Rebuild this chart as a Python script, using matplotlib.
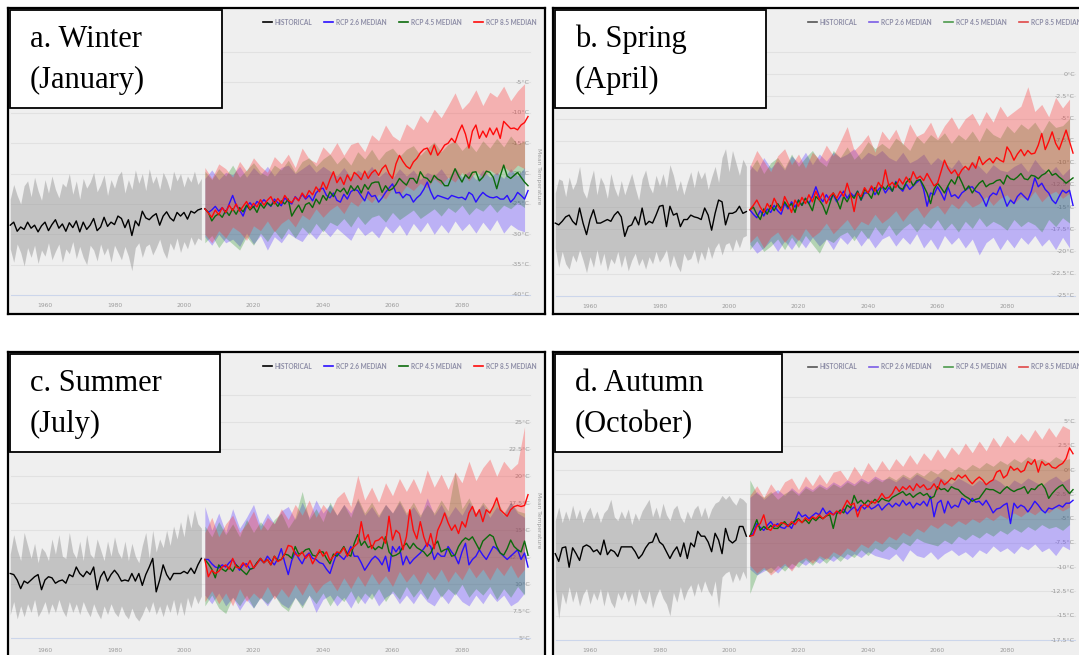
import numpy as np
import matplotlib.pyplot as plt
from matplotlib.patches import Rectangle

W, H = 1079, 655          # output size in pixels
PW, PH = 537, 306         # one panel (screenshot) in pixels
PPY = 3.475               # pixels per year on the x axis
X0 = 1960 - 37 / PPY      # year at the left edge of a panel
X1 = X0 + PW / PPY

hist_years = np.arange(1950, 2006)
rcp_years = np.arange(2006, 2100)
band_years = np.arange(2006, 2100, 2)

# ---------------- a. Winter (January) ----------------
jan_hist = [-28.5, -28.0, -29.5, -28.8, -29.2, -28.0, -29.0, -28.5, -29.6, -28.6,
            -28.0, -29.4, -28.4, -27.6, -29.0, -28.3, -29.5, -28.1, -28.9, -27.8,
            -29.6, -28.0, -29.2, -28.5, -27.4, -29.4, -28.8, -27.2, -28.7, -28.0,
            -28.4, -27.0, -27.4, -28.9, -27.6, -30.2, -27.8, -28.6, -26.2, -27.3,
            -27.6, -27.0, -26.6, -28.5, -27.0, -26.3, -27.3, -27.8, -26.4, -27.0,
            -26.4, -27.5, -26.2, -26.5, -26.0, -25.8]
jan_hist_hi = [-24.2, -21.8, -23.6, -25.0, -22.0, -21.2, -23.8, -20.6, -22.8, -24.4,
               -21.0, -23.2, -20.4, -22.6, -24.0, -21.6, -22.2, -20.0, -23.4, -21.2,
               -24.2, -20.8, -22.4, -21.4, -19.8, -23.0, -21.8, -20.2, -23.6, -21.0,
               -22.4, -20.4, -19.6, -23.2, -21.0, -22.6, -19.4, -21.6, -20.0, -22.8,
               -19.2, -21.6, -20.4, -22.6, -19.8, -21.0, -22.8, -19.6, -21.2, -20.0,
               -22.2, -20.4, -21.4, -19.6, -21.8, -20.8]
jan_hist_lo = [-32.4, -34.6, -31.6, -33.0, -35.2, -32.2, -33.8, -31.8, -34.8, -32.6,
               -33.6, -31.4, -34.2, -32.8, -31.6, -34.6, -32.4, -33.2, -31.2, -34.0,
               -32.0, -33.8, -35.0, -31.8, -32.6, -34.4, -31.6, -33.4, -32.2, -34.6,
               -31.8, -33.0, -34.2, -32.0, -33.6, -36.0, -32.2, -31.4, -33.8, -32.0,
               -31.6, -33.4, -32.2, -30.8, -32.8, -34.0, -31.4, -32.6, -30.6, -33.0,
               -31.2, -32.4, -30.4, -31.8, -30.6, -31.0]
jan_rcp85 = [-25.8, -26.5, -27.2, -26.0, -26.8, -25.6, -26.4, -25.2, -26.1, -25.0,
             -26.2, -25.4, -24.6, -25.8, -24.9, -25.5, -24.3, -25.2, -24.4, -23.8,
             -25.0, -24.1, -24.9, -23.6, -24.4, -24.8, -23.9, -24.5, -23.2, -24.0,
             -22.8, -23.5, -22.2, -23.0, -21.4, -22.6, -21.0, -19.7, -21.5, -20.6,
             -21.8, -20.2, -21.2, -19.8, -20.3, -21.0, -19.6, -20.8, -19.9, -19.4,
             -20.3, -19.2, -18.6, -20.0, -20.8, -18.4, -17.0, -18.0, -18.8, -19.2,
             -18.1, -17.5, -16.6, -16.0, -15.8, -16.9, -15.3, -17.0, -16.2, -15.3,
             -15.0, -14.2, -14.9, -13.2, -12.0, -13.5, -15.8, -13.0, -12.0, -14.2,
             -13.0, -14.0, -12.5, -13.6, -12.5, -14.2, -11.4, -12.0, -12.6, -12.5,
             -12.8, -12.0, -11.6, -10.6]
jan_rcp45 = [-25.8, -26.4, -27.8, -27.0, -26.6, -27.2, -26.1, -26.9, -25.8, -26.7,
             -25.6, -26.3, -25.2, -26.0, -25.4, -26.4, -25.0, -25.7, -24.8, -25.3,
             -24.6, -25.4, -24.5, -25.0, -24.2, -27.0, -26.0, -25.2, -26.4, -25.1,
             -24.8, -25.6, -24.2, -25.0, -23.6, -24.4, -23.0, -23.8, -22.6, -23.0,
             -22.4, -23.4, -22.0, -22.8, -22.0, -23.2, -21.8, -22.6, -21.6, -21.4,
             -21.4, -23.1, -22.0, -22.8, -22.5, -21.8, -20.8, -21.4, -21.9, -20.8,
             -20.8, -21.6, -19.7, -20.6, -20.8, -21.5, -20.3, -20.9, -21.2, -22.0,
             -22.0, -20.6, -19.2, -20.4, -21.4, -20.2, -20.8, -19.8, -19.7, -21.2,
             -20.6, -19.6, -19.8, -20.6, -22.5, -20.4, -18.6, -20.4, -20.8, -20.3,
             -19.8, -20.6, -21.4, -22.0]
jan_rcp26 = [-25.8, -26.4, -26.0, -25.4, -26.2, -25.6, -26.5, -25.0, -23.6, -25.2,
             -26.0, -27.0, -25.4, -24.8, -25.6, -24.6, -25.0, -24.3, -24.9, -25.4,
             -24.2, -24.8, -25.3, -24.0, -24.6, -25.0, -23.8, -24.4, -23.4, -24.2,
             -23.6, -24.5, -23.2, -22.6, -22.4, -23.6, -24.0, -23.2, -24.4, -24.7,
             -23.4, -24.2, -23.0, -22.6, -22.8, -23.7, -24.5, -23.0, -23.8, -23.6,
             -24.7, -24.0, -23.1, -22.4, -21.7, -23.2, -23.1, -24.0, -23.4, -23.6,
             -24.7, -24.0, -23.5, -22.6, -21.4, -23.0, -24.2, -23.6, -23.8, -24.0,
             -24.2, -23.6, -23.8, -24.0, -23.9, -24.3, -23.1, -23.5, -24.7, -23.8,
             -23.1, -23.6, -23.9, -24.0, -23.8, -24.2, -24.2, -23.6, -24.7, -24.1,
             -23.1, -23.6, -24.2, -22.8]
jan_rcp85_hi = [-19.0, -20.8, -18.4, -19.2, -20.6, -18.0, -19.6, -17.4, -18.8, -19.8,
                -17.2, -18.4, -16.8, -19.0, -15.8, -17.6, -18.2, -15.6, -16.8, -14.9,
                -17.0, -15.2, -14.8, -16.4, -13.6, -14.6, -12.0, -13.8, -14.6, -11.8,
                -12.8, -10.4, -11.6, -9.4, -10.8, -8.8, -6.7, -9.4, -8.2, -6.2,
                -8.8, -6.6, -7.4, -5.6, -8.0, -6.4, -5.2]
jan_rcp85_lo = [-30.0, -31.4, -29.4, -30.6, -28.8, -29.6, -31.0, -28.6, -29.4, -27.8,
                -29.6, -28.2, -27.4, -28.8, -26.8, -27.6, -25.8, -27.2, -26.0, -25.2,
                -26.6, -24.6, -25.4, -23.8, -24.8, -23.4, -24.2, -22.4, -23.6, -22.0,
                -22.8, -21.6, -22.4, -20.8, -21.8, -20.6, -21.4, -19.8, -21.2, -19.6,
                -20.6, -19.4, -20.2, -18.8, -19.8, -18.6, -19.2]
jan_rcp45_hi = [-19.6, -21.0, -19.2, -20.4, -18.6, -20.6, -19.4, -18.2, -19.8, -20.4,
                -18.6, -19.4, -17.8, -19.8, -18.0, -17.4, -18.8, -17.6, -16.8, -18.4,
                -17.2, -18.6, -16.4, -17.6, -16.0, -17.8, -16.4, -15.8, -17.2, -16.0,
                -15.4, -17.0, -15.8, -14.8, -16.4, -15.2, -14.6, -16.2, -15.0, -16.4,
                -14.6, -15.8, -14.2, -15.6, -13.8, -15.2, -14.6]
jan_rcp45_lo = [-31.4, -30.2, -32.2, -30.6, -31.6, -32.6, -30.4, -31.8, -29.8, -31.2,
                -29.4, -30.8, -29.0, -30.6, -28.8, -30.0, -28.2, -29.6, -28.0, -28.6,
                -27.4, -28.8, -27.0, -28.4, -27.2, -26.8, -28.0, -26.4, -27.6, -26.8,
                -26.0, -27.4, -26.6, -25.8, -27.0, -25.6, -26.4, -25.2, -26.8, -25.6,
                -26.2, -25.0, -26.4, -25.2, -25.8, -24.8, -25.6]
jan_rcp26_hi = [-20.8, -19.4, -21.0, -19.8, -20.2, -18.8, -20.6, -19.0, -20.2, -18.8,
                -20.4, -19.0, -18.6, -20.0, -19.2, -18.4, -19.8, -18.8, -19.6, -20.4,
                -19.0, -20.6, -19.4, -20.2, -18.8, -20.6, -19.6, -20.8, -19.2, -20.4,
                -19.4, -21.0, -19.8, -20.4, -19.2, -20.8, -19.0, -20.6, -19.6, -21.0,
                -19.4, -20.6, -19.8, -20.8, -19.2, -20.4, -19.0]
jan_rcp26_lo = [-30.4, -31.8, -30.0, -31.4, -30.8, -32.0, -29.8, -31.6, -30.2, -32.6,
                -30.4, -31.4, -29.8, -30.6, -31.2, -29.6, -30.8, -29.2, -30.4, -29.0,
                -30.0, -31.0, -28.8, -30.2, -29.4, -30.6, -28.6, -29.8, -28.4, -30.2,
                -28.2, -29.6, -28.0, -30.0, -28.4, -29.8, -27.8, -29.4, -28.2, -29.8,
                -28.0, -29.4, -27.6, -29.8, -28.4, -29.2, -29.6]

# ---------------- b. Spring (April) ----------------
apr_hist = [-16.8, -17.0, -16.6, -16.1, -15.9, -16.6, -17.0, -15.1, -16.8, -18.1,
            -16.4, -15.3, -16.8, -16.8, -16.6, -16.4, -16.6, -15.9, -15.5, -16.1,
            -18.3, -17.2, -17.0, -16.1, -17.0, -15.1, -17.0, -16.6, -16.8, -15.9,
            -14.9, -14.8, -17.2, -14.9, -15.9, -15.7, -17.2, -16.4, -16.4, -15.9,
            -16.1, -16.2, -16.4, -15.1, -15.9, -17.6, -15.7, -14.2, -14.4, -17.0,
            -15.7, -15.7, -15.5, -14.9, -15.7, -15.5]
apr_hist_hi = [-13.4, -11.8, -12.0, -13.8, -11.6, -13.0, -12.2, -10.4, -13.2, -14.0,
               -12.2, -10.8, -13.6, -11.6, -12.4, -14.0, -11.2, -12.8, -13.8, -12.0,
               -13.6, -12.4, -11.2, -12.8, -14.2, -11.8, -10.8, -12.6, -13.4, -11.4,
               -12.6, -11.2, -12.8, -10.2, -11.4, -13.2, -12.0, -13.6, -12.2, -11.0,
               -12.8, -10.8, -11.8, -11.0, -13.0, -11.6, -10.4, -12.2, -9.4, -8.4,
               -11.0, -8.6, -10.0, -11.4, -9.6, -10.4]
apr_hist_lo = [-19.6, -21.8, -20.0, -21.4, -22.0, -20.4, -21.2, -19.8, -21.0, -22.4,
               -20.6, -21.8, -19.8, -21.6, -20.2, -22.2, -20.8, -21.4, -20.0, -21.8,
               -20.4, -22.2, -21.0, -20.2, -21.6, -20.8, -22.0, -20.6, -21.4, -20.0,
               -21.2, -20.6, -19.8, -21.8, -20.4, -21.6, -22.3, -20.2, -21.0, -20.8,
               -19.8, -21.4, -20.0, -21.0, -19.4, -20.8, -19.6, -19.0, -20.4, -19.2,
               -19.0, -20.0, -18.6, -19.6, -18.4, -18.2]
apr_rcp85 = [-15.3, -14.8, -14.2, -15.0, -15.6, -14.6, -15.2, -14.0, -14.8, -15.4,
             -13.8, -14.6, -15.6, -14.2, -14.9, -13.9, -14.6, -13.6, -14.4, -13.2,
             -14.2, -13.4, -14.6, -13.8, -13.4, -14.0, -13.2, -13.8, -12.3, -13.6,
             -15.5, -13.4, -13.8, -12.8, -13.4, -12.6, -13.2, -12.2, -12.8, -10.8,
             -12.6, -12.2, -12.8, -11.8, -12.4, -11.6, -12.2, -11.0, -11.8, -11.5,
             -12.0, -11.2, -11.9, -12.6, -12.3, -11.0, -9.7, -10.6, -11.2, -10.8,
             -11.5, -10.8, -10.4, -10.8, -10.0, -10.6, -9.3, -10.2, -9.8, -9.5,
             -10.0, -9.4, -9.7, -9.9, -8.2, -8.8, -9.7, -9.0, -8.5, -9.2,
             -8.6, -9.0, -8.9, -8.0, -6.7, -8.5, -7.6, -6.5, -7.8, -8.5,
             -7.4, -6.3, -7.6, -8.9]
apr_rcp45 = [-15.3, -15.0, -15.8, -16.4, -15.2, -15.8, -14.8, -15.4, -14.6, -15.2,
             -14.4, -15.0, -14.6, -15.6, -14.2, -14.8, -14.0, -14.6, -15.4, -13.8,
             -14.2, -14.8, -15.8, -14.6, -13.4, -14.2, -15.2, -13.8, -14.4, -13.6,
             -14.0, -13.2, -14.2, -13.0, -13.4, -14.0, -12.8, -13.6, -12.6, -13.0,
             -12.4, -13.2, -12.2, -12.8, -13.0, -12.2, -11.8, -12.6, -12.0, -11.9,
             -12.6, -13.4, -14.6, -13.0, -12.3, -12.8, -13.4, -12.6, -11.9, -12.4,
             -11.4, -12.2, -13.1, -12.6, -13.4, -12.8, -12.3, -12.0, -12.7, -12.4,
             -12.3, -12.0, -11.9, -12.4, -11.4, -11.8, -11.9, -11.6, -11.2, -11.8,
             -11.9, -11.4, -11.5, -11.8, -11.4, -11.2, -10.8, -11.4, -11.2, -11.6,
             -11.9, -12.3, -12.0, -11.7]
apr_rcp26 = [-15.3, -15.8, -16.2, -15.4, -16.0, -15.2, -15.6, -14.8, -15.4, -15.8,
             -14.6, -15.2, -14.4, -15.0, -14.2, -14.8, -14.0, -14.6, -13.8, -12.7,
             -13.8, -14.4, -13.6, -14.2, -13.6, -14.4, -13.8, -13.2, -14.0, -13.4,
             -13.8, -13.2, -14.2, -13.4, -13.4, -12.8, -13.6, -13.0, -12.6, -13.4,
             -12.8, -13.2, -12.1, -12.8, -13.2, -12.4, -13.0, -12.6, -12.2, -11.9,
             -13.0, -14.9, -13.4, -13.6, -12.7, -13.4, -14.2, -12.7, -13.8, -13.6,
             -14.0, -13.4, -13.1, -12.8, -12.7, -13.2, -13.4, -14.0, -14.9, -13.8,
             -13.4, -13.6, -12.7, -13.8, -14.9, -14.2, -14.6, -13.8, -13.4, -13.8,
             -14.2, -13.2, -11.7, -12.7, -12.3, -13.0, -13.4, -14.2, -14.6, -13.8,
             -13.1, -13.4, -13.1, -14.8]
apr_rcp85_hi = [-10.4, -8.6, -9.8, -11.0, -9.2, -8.4, -10.2, -9.0, -10.6, -8.8,
                -9.6, -8.0, -9.2, -7.6, -5.9, -8.6, -7.8, -6.8, -8.8, -6.4,
                -7.4, -6.2, -8.0, -5.6, -7.0, -6.6, -5.4, -7.2, -5.8, -4.8,
                -6.2, -5.0, -4.4, -5.8, -4.2, -5.4, -3.6, -4.8, -4.2, -3.6,
                -1.4, -4.2, -3.4, -4.8, -2.6, -3.8, -2.8]
apr_rcp85_lo = [-19.0, -18.2, -19.6, -18.4, -17.8, -19.0, -18.0, -18.8, -17.4, -18.4,
                -17.8, -16.8, -18.0, -17.2, -16.4, -17.6, -16.6, -17.0, -15.8, -16.8,
                -16.2, -15.4, -16.6, -15.6, -15.0, -16.2, -15.2, -14.8, -15.8, -14.6,
                -15.2, -14.2, -15.0, -14.6, -13.8, -14.8, -14.0, -13.6, -14.6, -13.8,
                -14.2, -13.2, -14.4, -13.6, -13.2, -14.0, -13.4]
apr_rcp45_hi = [-10.8, -9.6, -11.2, -10.0, -9.4, -10.6, -9.0, -10.4, -9.4, -8.6,
                -9.8, -10.4, -8.6, -9.4, -8.2, -9.6, -8.8, -7.6, -8.4, -7.8,
                -8.4, -7.2, -7.8, -8.6, -7.0, -7.8, -6.8, -7.4, -6.6, -7.8,
                -6.8, -7.4, -6.4, -7.6, -6.0, -6.8, -7.2, -5.8, -6.6, -5.6,
                -6.2, -5.4, -6.6, -5.2, -6.0, -5.8, -5.0]
apr_rcp45_lo = [-19.8, -18.8, -20.0, -19.4, -18.6, -19.8, -18.4, -19.6, -18.2, -19.2,
                -20.2, -18.6, -19.0, -18.2, -17.8, -18.8, -17.6, -18.6, -17.2, -18.2,
                -17.0, -18.2, -17.4, -16.8, -17.8, -16.8, -17.4, -16.4, -17.6, -16.8,
                -17.8, -16.6, -17.4, -16.2, -17.2, -16.6, -17.0, -17.6, -16.4, -17.2,
                -16.6, -17.0, -17.8, -16.4, -17.2, -16.2, -16.8]
apr_rcp26_hi = [-10.2, -11.0, -9.4, -10.6, -9.8, -10.8, -9.2, -10.0, -8.8, -10.2,
                -9.0, -9.8, -8.8, -9.4, -9.0, -8.4, -9.6, -8.8, -9.2, -8.6,
                -9.4, -9.8, -8.8, -10.0, -9.6, -9.0, -10.2, -9.4, -10.0, -10.6,
                -9.6, -10.8, -9.8, -10.4, -11.2, -10.2, -10.8, -11.0, -10.4, -10.0,
                -11.0, -9.6, -10.6, -11.2, -10.4, -11.4, -10.6]
apr_rcp26_lo = [-19.2, -20.2, -19.6, -18.8, -20.0, -18.8, -19.8, -18.6, -19.6, -18.4,
                -19.4, -18.6, -19.8, -18.4, -19.2, -18.2, -19.4, -18.4, -19.6, -18.6,
                -18.2, -19.4, -18.4, -19.2, -18.0, -19.6, -18.6, -19.8, -18.2, -19.2,
                -18.4, -19.6, -18.6, -20.4, -19.0, -18.4, -19.8, -18.6, -19.6, -18.4,
                -19.2, -18.2, -19.4, -18.6, -19.8, -18.4, -19.6]

# ---------------- c. Summer (July) ----------------
jul_hist = [11.0, 10.9, 10.4, 9.6, 10.3, 10.1, 10.4, 10.7, 10.9, 9.5,
            10.4, 10.7, 10.6, 10.1, 10.3, 10.4, 10.1, 10.9, 10.7, 11.6,
            11.0, 10.7, 11.2, 10.9, 11.6, 9.5, 10.7, 11.2, 10.3, 10.9,
            11.3, 10.9, 10.3, 10.4, 10.3, 11.0, 10.3, 11.0, 9.9, 10.9,
            11.6, 12.4, 9.3, 10.4, 11.8, 10.9, 10.4, 11.0, 11.0, 11.0,
            11.2, 11.0, 11.5, 11.0, 11.8, 12.4]
jul_hist_hi = [12.8, 14.6, 13.2, 12.2, 14.8, 13.6, 12.4, 13.8, 12.0, 13.4,
               13.0, 12.2, 14.2, 12.8, 14.6, 12.6, 12.4, 14.8, 13.0, 12.4,
               14.0, 12.2, 14.6, 12.8, 12.4, 14.2, 13.2, 12.2, 14.0, 12.6,
               14.4, 13.0, 12.4, 14.0, 12.2, 13.8, 12.6, 12.0, 13.6, 14.8,
               12.4, 15.0, 13.0, 14.2, 13.4, 15.0, 13.6, 15.4, 14.2, 15.8,
               14.4, 16.6, 15.2, 16.9, 15.6, 15.2]
jul_hist_lo = [7.2, 8.4, 6.8, 8.0, 7.0, 8.2, 7.4, 8.6, 7.0, 7.6,
               8.4, 7.2, 8.2, 7.4, 8.6, 7.6, 7.0, 8.4, 7.4, 8.2,
               7.2, 8.4, 7.6, 7.0, 8.2, 7.4, 6.8, 8.0, 7.2, 8.2,
               7.4, 7.0, 8.0, 7.2, 6.8, 7.8, 7.0, 6.6, 7.2, 8.0,
               7.4, 8.4, 7.2, 8.0, 7.0, 8.2, 7.4, 8.6, 7.1, 8.4,
               7.1, 8.8, 7.8, 9.0, 8.2, 8.9]
jul_rcp85 = [12.3, 10.7, 11.3, 11.0, 11.2, 11.6, 11.8, 11.4, 12.4, 11.6,
             11.5, 12.0, 11.6, 12.2, 11.5, 11.9, 12.4, 12.0, 12.3, 11.8,
             12.6, 12.1, 12.3, 12.8, 13.6, 13.5, 12.8, 12.6, 13.0, 12.4,
             12.8, 11.9, 12.5, 13.2, 12.6, 13.0, 12.2, 12.6, 13.0, 12.9,
             13.4, 12.6, 13.2, 13.5, 13.8, 15.8, 14.1, 14.6, 13.3, 14.0,
             14.1, 14.4, 13.8, 16.3, 14.1, 15.0, 14.7, 13.2, 14.4, 16.9,
             15.0, 14.2, 15.8, 14.4, 13.5, 14.7, 13.3, 15.0, 15.7, 16.6,
             15.7, 15.0, 15.5, 14.7, 15.8, 15.3, 16.6, 17.2, 16.3, 16.9,
             15.8, 16.9, 16.6, 17.2, 18.0, 16.9, 16.6, 16.3, 16.9, 17.2,
             17.3, 17.2, 17.3, 18.3]
jul_rcp45 = [12.3, 11.9, 11.4, 10.6, 11.8, 11.4, 11.2, 11.6, 11.2, 11.8,
             11.5, 11.2, 10.9, 11.4, 11.5, 12.0, 12.4, 12.0, 12.3, 11.8,
             12.6, 12.2, 12.3, 12.8, 12.7, 12.4, 13.5, 12.8, 12.9, 13.2,
             13.3, 12.7, 12.6, 13.0, 13.0, 12.4, 11.9, 12.8, 12.6, 13.0,
             13.5, 12.8, 12.6, 13.8, 14.6, 13.6, 14.0, 13.4, 13.6, 13.2,
             13.5, 13.3, 14.4, 13.0, 12.6, 12.7, 12.9, 13.5, 13.8, 13.3,
             13.8, 13.4, 13.2, 13.0, 12.6, 12.9, 13.6, 14.0, 13.0, 13.2,
             13.3, 12.6, 12.7, 13.5, 14.0, 14.3, 14.1, 14.4, 13.8, 13.2,
             14.0, 14.3, 14.6, 14.4, 13.5, 12.9, 12.7, 13.3, 14.1, 13.5,
             13.2, 13.0, 14.0, 12.7]
jul_rcp26 = [12.3, 12.3, 11.9, 11.6, 11.5, 11.8, 11.6, 12.0, 12.3, 11.8,
             11.3, 11.8, 11.9, 11.4, 11.5, 12.0, 12.3, 12.0, 12.6, 12.2,
             11.8, 12.4, 13.3, 12.0, 10.9, 12.2, 13.0, 12.4, 11.9, 12.6,
             12.9, 12.4, 12.3, 12.0, 11.9, 11.4, 11.0, 12.0, 12.9, 12.6,
             12.3, 12.8, 13.5, 12.6, 12.6, 12.0, 11.3, 11.8, 12.3, 12.6,
             12.3, 11.8, 12.6, 11.2, 13.5, 13.0, 13.5, 11.8, 12.6, 11.9,
             12.3, 12.6, 12.9, 13.3, 13.8, 13.5, 12.3, 12.9, 12.6, 12.6,
             13.5, 13.0, 12.6, 11.9, 13.0, 13.8, 11.8, 12.3, 12.6, 13.2,
             12.7, 12.3, 12.9, 13.5, 13.3, 12.9, 12.6, 12.3, 12.6, 12.9,
             13.2, 12.3, 12.9, 11.6]
jul_rcp85_hi = [14.8, 16.2, 14.4, 15.6, 16.4, 14.8, 15.6, 16.8, 15.0, 16.2,
                15.6, 17.0, 16.0, 17.4, 16.4, 17.8, 16.2, 17.4, 16.6, 18.0,
                18.6, 17.2, 20.1, 17.8, 19.0, 17.6, 19.4, 18.2, 19.8, 18.6,
                19.8, 18.4, 20.6, 19.0, 20.2, 18.8, 20.4, 19.4, 21.4, 19.6,
                20.8, 21.6, 20.0, 21.4, 20.6, 21.2, 24.6]
jul_rcp85_lo = [8.4, 9.4, 8.2, 9.2, 8.0, 9.6, 8.4, 9.2, 8.6, 9.8,
                8.6, 9.6, 8.8, 10.0, 9.0, 10.2, 9.2, 10.0, 10.4, 9.4,
                10.6, 9.6, 10.8, 9.8, 11.0, 10.0, 10.8, 9.8, 11.2, 10.2,
                11.0, 10.0, 11.2, 10.4, 11.4, 10.2, 11.2, 10.4, 11.6, 10.6,
                11.4, 10.4, 11.6, 10.8, 11.8, 10.6, 11.4]
jul_rcp45_hi = [15.4, 14.4, 15.8, 14.6, 15.6, 14.4, 16.0, 14.8, 15.8, 15.0,
                16.0, 16.6, 15.2, 16.2, 18.6, 16.0, 17.0, 15.8, 17.6, 16.4,
                17.4, 16.2, 18.0, 16.6, 17.6, 16.4, 17.4, 16.6, 17.8, 16.6,
                17.6, 16.4, 17.4, 16.6, 17.8, 16.8, 20.4, 17.0, 18.0, 16.6,
                17.6, 16.8, 17.8, 16.6, 17.6, 16.8, 16.6]
jul_rcp45_lo = [8.0, 9.0, 7.8, 7.3, 8.8, 8.0, 9.0, 7.8, 8.8, 8.2,
                9.0, 8.0, 7.5, 8.8, 7.8, 9.0, 8.2, 9.2, 8.0, 9.0,
                8.4, 9.4, 8.2, 9.2, 8.6, 9.6, 8.4, 9.4, 8.6, 9.8,
                8.8, 9.6, 8.6, 9.8, 8.8, 9.6, 9.0, 10.0, 8.8, 9.6,
                9.0, 9.8, 8.6, 9.6, 8.8, 9.8, 9.0]
jul_rcp26_hi = [17.2, 15.0, 16.6, 14.8, 17.0, 15.2, 16.2, 17.4, 15.4, 16.6,
                15.6, 16.8, 17.2, 16.0, 17.6, 16.2, 17.8, 16.6, 17.4, 16.4,
                17.4, 16.6, 17.8, 16.4, 17.2, 16.2, 17.4, 16.6, 17.6, 16.4,
                17.2, 16.2, 18.0, 16.4, 17.4, 16.2, 17.2, 16.4, 17.6, 16.6,
                17.4, 16.2, 17.2, 16.4, 17.6, 16.6, 16.2]
jul_rcp26_lo = [9.0, 8.2, 9.2, 8.0, 8.8, 7.6, 8.6, 7.8, 8.8, 8.0,
                9.0, 8.2, 7.8, 8.8, 8.0, 9.0, 7.4, 8.6, 9.0, 8.0,
                8.8, 7.8, 9.0, 8.2, 9.2, 8.0, 8.8, 9.2, 8.2, 9.0,
                8.2, 9.2, 8.4, 8.0, 9.0, 8.2, 9.2, 8.4, 8.0, 9.0,
                8.2, 9.2, 8.4, 9.0, 8.0, 8.4, 9.2]

# ---------------- d. Autumn (October) ----------------
oct_hist = [-8.6, -9.4, -8.0, -7.9, -10.0, -8.0, -8.6, -9.3, -7.9, -7.7,
            -7.9, -8.4, -8.2, -8.7, -7.2, -8.7, -8.2, -8.4, -8.9, -7.9,
            -7.9, -7.9, -7.9, -8.4, -9.1, -8.7, -8.0, -7.5, -7.4, -6.5,
            -7.4, -7.7, -8.4, -9.1, -8.4, -7.9, -8.9, -7.5, -9.1, -7.5,
            -7.9, -6.3, -6.8, -6.8, -7.4, -8.4, -6.5, -7.2, -8.6, -6.0,
            -7.2, -7.5, -7.2, -5.8, -5.8, -6.8]
oct_hist_hi = [-5.2, -3.8, -5.4, -4.2, -5.2, -3.6, -5.0, -4.0, -5.4, -4.4,
               -3.8, -5.0, -4.2, -5.4, -4.4, -4.0, -3.0, -4.8, -5.2, -4.2,
               -5.0, -4.0, -5.6, -4.4, -5.2, -4.2, -3.6, -3.0, -4.8, -3.8,
               -5.0, -3.4, -4.6, -5.2, -4.0, -3.6, -4.8, -5.4, -4.2, -5.0,
               -4.0, -3.6, -4.8, -3.8, -5.0, -4.0, -3.4, -3.2, -2.6, -3.0,
               -2.6, -3.2, -3.6, -2.8, -3.0, -3.4]
oct_hist_lo = [-12.2, -15.3, -12.6, -13.8, -12.0, -13.6, -12.4, -14.0, -12.8, -12.2,
               -13.8, -12.6, -13.4, -12.2, -14.0, -12.4, -13.6, -14.2, -12.6, -13.4,
               -12.4, -13.6, -12.6, -14.0, -12.2, -13.2, -13.8, -12.4, -14.2, -13.0,
               -12.2, -13.2, -13.8, -15.0, -12.6, -13.6, -12.0, -13.4, -12.4, -11.8,
               -13.0, -11.6, -12.6, -11.4, -12.4, -13.0, -11.4, -14.2, -11.0, -10.6,
               -10.4, -11.6, -10.6, -11.4, -10.4, -11.2]
oct_rcp85 = [-6.8, -6.7, -5.8, -5.5, -4.6, -6.0, -6.2, -5.6, -5.8, -5.4,
             -5.5, -5.8, -5.3, -5.6, -5.1, -5.4, -4.9, -5.2, -4.8, -5.0,
             -4.6, -5.0, -4.7, -4.4, -4.6, -4.2, -4.5, -3.8, -3.1, -3.6,
             -3.4, -4.8, -3.8, -3.5, -3.8, -3.2, -3.4, -3.0, -2.4, -2.9,
             -2.8, -2.4, -1.7, -2.2, -1.7, -2.0, -1.6, -2.1, -1.4, -1.8,
             -1.5, -2.0, -1.9, -1.4, -2.0, -1.0, -1.5, -1.2, -0.8, -1.0,
             -0.5, -0.8, -0.5, -1.0, -1.4, -1.0, -0.7, -1.0, -1.5, -1.2,
             -1.0, -0.2, 0.0, -0.8, -0.5, 0.4, 0.0, 0.2, -0.2, 0.0,
             0.9, 0.6, 1.1, -0.2, 0.9, 0.5, 0.7, 0.3, 0.2, 0.5,
             0.7, 1.2, 2.3, 1.7]
oct_rcp45 = [-6.8, -6.0, -5.1, -6.2, -5.8, -6.1, -5.7, -6.0, -6.0, -5.6,
             -5.3, -5.8, -5.5, -5.2, -5.0, -5.4, -5.1, -5.5, -4.9, -5.2,
             -4.8, -5.0, -4.7, -4.6, -6.0, -4.5, -4.1, -4.4, -3.6, -3.9,
             -2.6, -3.4, -3.1, -3.5, -3.1, -3.4, -3.0, -3.3, -2.9, -3.1,
             -3.2, -2.8, -2.6, -2.4, -2.2, -2.6, -2.4, -2.8, -2.5, -2.3,
             -2.6, -2.4, -2.9, -2.7, -1.7, -2.0, -1.9, -2.2, -1.7, -1.9,
             -2.0, -2.4, -2.7, -2.9, -3.2, -3.0, -2.9, -2.4, -1.9, -2.0,
             -2.0, -2.2, -2.4, -2.0, -1.7, -2.0, -2.2, -2.0, -1.9, -1.7,
             -2.4, -1.9, -2.0, -1.6, -1.4, -1.9, -2.9, -2.4, -2.0, -1.7,
             -1.5, -2.0, -2.4, -2.0]
oct_rcp26 = [-6.8, -6.5, -5.5, -5.9, -6.2, -5.7, -5.3, -5.8, -5.5, -5.9,
             -6.0, -5.6, -6.0, -5.2, -4.3, -4.8, -4.6, -5.0, -4.7, -4.4,
             -4.6, -3.9, -4.5, -4.2, -4.6, -4.3, -4.4, -4.0, -4.5, -4.1,
             -3.8, -4.2, -3.6, -4.0, -3.6, -4.0, -3.8, -3.5, -4.1, -3.7,
             -3.4, -3.8, -3.4, -3.7, -3.1, -3.6, -3.3, -3.9, -3.4, -3.6,
             -3.2, -3.7, -2.7, -4.8, -3.4, -3.1, -4.4, -3.2, -3.9, -3.6,
             -3.8, -2.9, -3.1, -3.5, -2.9, -3.3, -3.2, -3.6, -3.1, -3.7,
             -4.4, -4.0, -3.9, -3.6, -3.4, -5.5, -3.4, -3.9, -3.6, -3.8,
             -4.3, -3.8, -3.2, -3.6, -4.1, -4.4, -3.9, -4.0, -3.8, -3.6,
             -3.8, -3.4, -3.4, -3.1]
oct_rcp85_hi = [-2.6, -1.6, -2.8, -1.4, -2.4, -1.2, -0.8, -2.0, -0.6, -1.6,
                -0.4, -1.4, -0.2, 0.0, -1.0, 0.4, -0.6, 0.8, -0.2, 1.0,
                0.0, 1.2, 0.4, 1.6, 0.6, 1.8, 1.0, 2.2, 1.2, 2.4,
                1.6, 2.8, 1.8, 3.0, 2.0, 3.4, 2.4, 3.6, 2.8, 3.8,
                3.0, 4.2, 3.2, 4.4, 3.4, 4.6, 4.2]
oct_rcp85_lo = [-9.8, -10.6, -10.0, -10.8, -10.2, -9.6, -10.4, -9.4, -9.0, -9.6,
                -8.8, -9.2, -8.4, -8.8, -8.0, -8.4, -7.6, -8.0, -7.2, -7.6,
                -6.8, -7.2, -6.4, -6.8, -6.0, -6.4, -5.6, -6.0, -5.4, -5.8,
                -5.2, -5.6, -5.0, -5.4, -4.8, -5.2, -4.6, -5.0, -4.4, -4.8,
                -4.2, -4.6, -4.0, -4.4, -3.8, -4.2, -3.8]
oct_rcp45_hi = [-1.0, -2.4, -2.8, -2.2, -3.0, -2.4, -2.0, -2.6, -1.8, -2.2,
                -1.6, -2.0, -1.4, -1.8, -1.2, -1.6, -1.0, -1.4, -0.8, -1.2,
                -0.6, -1.0, -0.4, -0.8, -0.2, -0.6, 0.0, -0.4, 0.2, -0.2,
                0.4, 0.0, 0.6, 0.2, 0.8, 0.4, 1.0, 0.6, 1.2, 0.8,
                1.4, 1.0, 1.2, 0.8, 1.4, 1.0, 1.2]
oct_rcp45_lo = [-12.7, -10.8, -10.2, -10.6, -9.8, -10.4, -9.6, -10.0, -9.2, -9.8,
                -9.0, -9.6, -8.8, -9.4, -8.6, -9.0, -8.2, -8.8, -8.0, -8.4,
                -7.8, -8.2, -7.4, -7.8, -7.0, -7.4, -7.6, -7.8, -7.2, -7.6,
                -6.8, -7.2, -6.6, -7.0, -6.4, -6.8, -6.2, -6.6, -6.0, -6.4,
                -5.8, -6.2, -5.6, -6.0, -5.8, -6.2, -5.6]
oct_rcp26_hi = [-2.8, -2.2, -3.0, -2.4, -2.0, -2.6, -1.8, -2.4, -1.6, -2.0,
                -1.4, -1.8, -1.2, -1.6, -1.0, -1.4, -0.8, -1.2, -0.6, -1.0,
                -0.8, -1.2, -0.6, -1.0, -0.4, -0.8, -1.2, -0.6, -1.0, -1.4,
                -0.8, -1.2, -1.6, -1.0, -1.4, -0.8, -1.2, -1.8, -1.0, -1.4,
                -0.8, -1.2, -1.6, -1.0, -0.6, -1.2, -0.8]
oct_rcp26_lo = [-10.2, -10.8, -10.4, -10.0, -10.6, -9.8, -10.2, -9.4, -9.8, -9.2,
                -9.6, -9.0, -9.4, -8.8, -9.2, -8.6, -9.0, -8.4, -8.8, -9.0,
                -9.2, -8.6, -9.4, -8.2, -8.8, -9.0, -8.4, -9.2, -8.6, -8.2,
                -8.8, -8.4, -9.0, -8.2, -8.6, -7.8, -8.4, -8.0, -8.6, -7.8,
                -8.2, -7.6, -8.4, -8.0, -8.8, -7.8, -8.2]

legend_labels = ['HISTORICAL', 'RCP 2.6 MEDIAN', 'RCP 4.5 MEDIAN', 'RCP 8.5 MEDIAN']
xtick_years = [1960, 1980, 2000, 2020, 2040, 2060, 2080]

LINE_COLORS = {'hist': '#000000', 'rcp26': '#2b0fff', 'rcp45': '#0b6b0b', 'rcp85': '#ff0a0a'}
BAND_COLORS = {'rcp26': ('#6a4cff', 0.38), 'rcp45': ('#008000', 0.25), 'rcp85': ('#ff3030', 0.32)}
LEGEND_PURE = ['#000000', '#2b0fff', '#0b6b0b', '#ff0a0a']
LEGEND_MUTED = ['#555555', '#7a5ce6', '#4c9a4c', '#e04848']

fig = plt.figure(figsize=(W / 100, H / 100), dpi=100)
fig.patch.set_facecolor('white')


def draw_panel(left, top, box_w, title1, title2, v_top, v_bot, step, p_top, p_bot,
               hist, hist_hi, hist_lo, lines, bands, muted):
    ax = fig.add_axes([left / W, 1 - (top + PH) / H, PW / W, PH / H])
    ax.set_facecolor('#efefef')
    ppu = (p_bot - p_top) / (v_top - v_bot)
    y_max = v_top + p_top / ppu
    ax.set_xlim(X0, X1)
    ax.set_ylim(v_bot - (PH - p_bot) / ppu, y_max)
    ax.set_xticks([])
    ax.set_yticks([])
    for s in ax.spines.values():
        s.set_color('black')
        s.set_linewidth(1.6)

    def px(rel):   # panel pixel x -> data x
        return X0 + rel / PPY

    def py(rel):   # panel pixel y -> data y
        return y_max - rel / ppu

    # grid, y labels, x axis line
    n = int(round((v_top - v_bot) / step))
    for i in range(n + 2):
        v = v_bot + i * step
        col = '#ccd6eb' if i == 0 else '#e1e1e1'
        ax.plot([px(3), px(522)], [v, v], color=col, lw=0.8, zorder=1)
        if i <= n:
            ax.text(px(522), v, f'{round(v, 1):g}°C', ha='right', va='center',
                    fontsize=4.6, color='#9a9a9a', zorder=2)
    for yr in xtick_years:
        ax.text(yr, py(298), str(yr), ha='center', va='center', fontsize=4.3,
                color='#9a9a9a')
    ax.text(px(531), py(168), 'Mean Temperature', rotation=-90, ha='center',
            va='center', fontsize=4.3, color='#9a9a9a')

    # ranges
    ax.fill_between(hist_years, hist_lo, hist_hi, color='#999999', alpha=0.5,
                    lw=0, zorder=2)
    for key in ['rcp26', 'rcp45', 'rcp85']:
        lo, hi = bands[key]
        c, a = BAND_COLORS[key]
        ax.fill_between(band_years, lo, hi, color=c, alpha=a, lw=0, zorder=3)

    # medians
    ax.plot(hist_years, hist, color=LINE_COLORS['hist'], lw=1.0, zorder=5)
    for key in ['rcp26', 'rcp45', 'rcp85']:
        ax.plot(rcp_years, lines[key], color=LINE_COLORS[key], lw=1.0, zorder=5)

    # legend
    colors = LEGEND_MUTED if muted else LEGEND_PURE
    for lx, lab, c in zip([255, 316, 391, 466], legend_labels, colors):
        ax.plot([px(lx), px(lx + 9)], [py(14.5), py(14.5)], color=c, lw=1.2, zorder=6)
        ax.text(px(lx + 12), py(14.5), lab, ha='left', va='center', fontsize=4.7,
                fontweight='bold', color='#8d8da6', family='Lato', zorder=6)

    # caption box
    ax.add_patch(Rectangle((px(2), py(100)), box_w / PPY, 98 / ppu, facecolor='white',
                           edgecolor='black', lw=1.3, zorder=10))
    ax.text(px(22), py(39), title1, fontsize=22, family='Liberation Serif',
            va='baseline', ha='left', zorder=11)
    ax.text(px(22), py(80), title2, fontsize=22, family='Liberation Serif',
            va='baseline', ha='left', zorder=11)


draw_panel(8, 8, 212, 'a. Winter', '(January)', -5, -40, 5, 74.5, 287,
           jan_hist, jan_hist_hi, jan_hist_lo,
           {'rcp26': jan_rcp26, 'rcp45': jan_rcp45, 'rcp85': jan_rcp85},
           {'rcp26': (jan_rcp26_lo, jan_rcp26_hi), 'rcp45': (jan_rcp45_lo, jan_rcp45_hi),
            'rcp85': (jan_rcp85_lo, jan_rcp85_hi)}, False)
draw_panel(553, 8, 211, 'b. Spring', '(April)', 0, -25, 2.5, 66.3, 287.7,
           apr_hist, apr_hist_hi, apr_hist_lo,
           {'rcp26': apr_rcp26, 'rcp45': apr_rcp45, 'rcp85': apr_rcp85},
           {'rcp26': (apr_rcp26_lo, apr_rcp26_hi), 'rcp45': (apr_rcp45_lo, apr_rcp45_hi),
            'rcp85': (apr_rcp85_lo, apr_rcp85_hi)}, True)
draw_panel(8, 352, 210, 'c. Summer', '(July)', 25, 5, 2.5, 70.3, 286.3,
           jul_hist, jul_hist_hi, jul_hist_lo,
           {'rcp26': jul_rcp26, 'rcp45': jul_rcp45, 'rcp85': jul_rcp85},
           {'rcp26': (jul_rcp26_lo, jul_rcp26_hi), 'rcp45': (jul_rcp45_lo, jul_rcp45_hi),
            'rcp85': (jul_rcp85_lo, jul_rcp85_hi)}, False)
draw_panel(553, 352, 227, 'd. Autumn', '(October)', 5, -17.5, 2.5, 69.7, 288,
           oct_hist, oct_hist_hi, oct_hist_lo,
           {'rcp26': oct_rcp26, 'rcp45': oct_rcp45, 'rcp85': oct_rcp85},
           {'rcp26': (oct_rcp26_lo, oct_rcp26_hi), 'rcp45': (oct_rcp45_lo, oct_rcp45_hi),
            'rcp85': (oct_rcp85_lo, oct_rcp85_hi)}, True)

fig.savefig('out.png', dpi=100)
